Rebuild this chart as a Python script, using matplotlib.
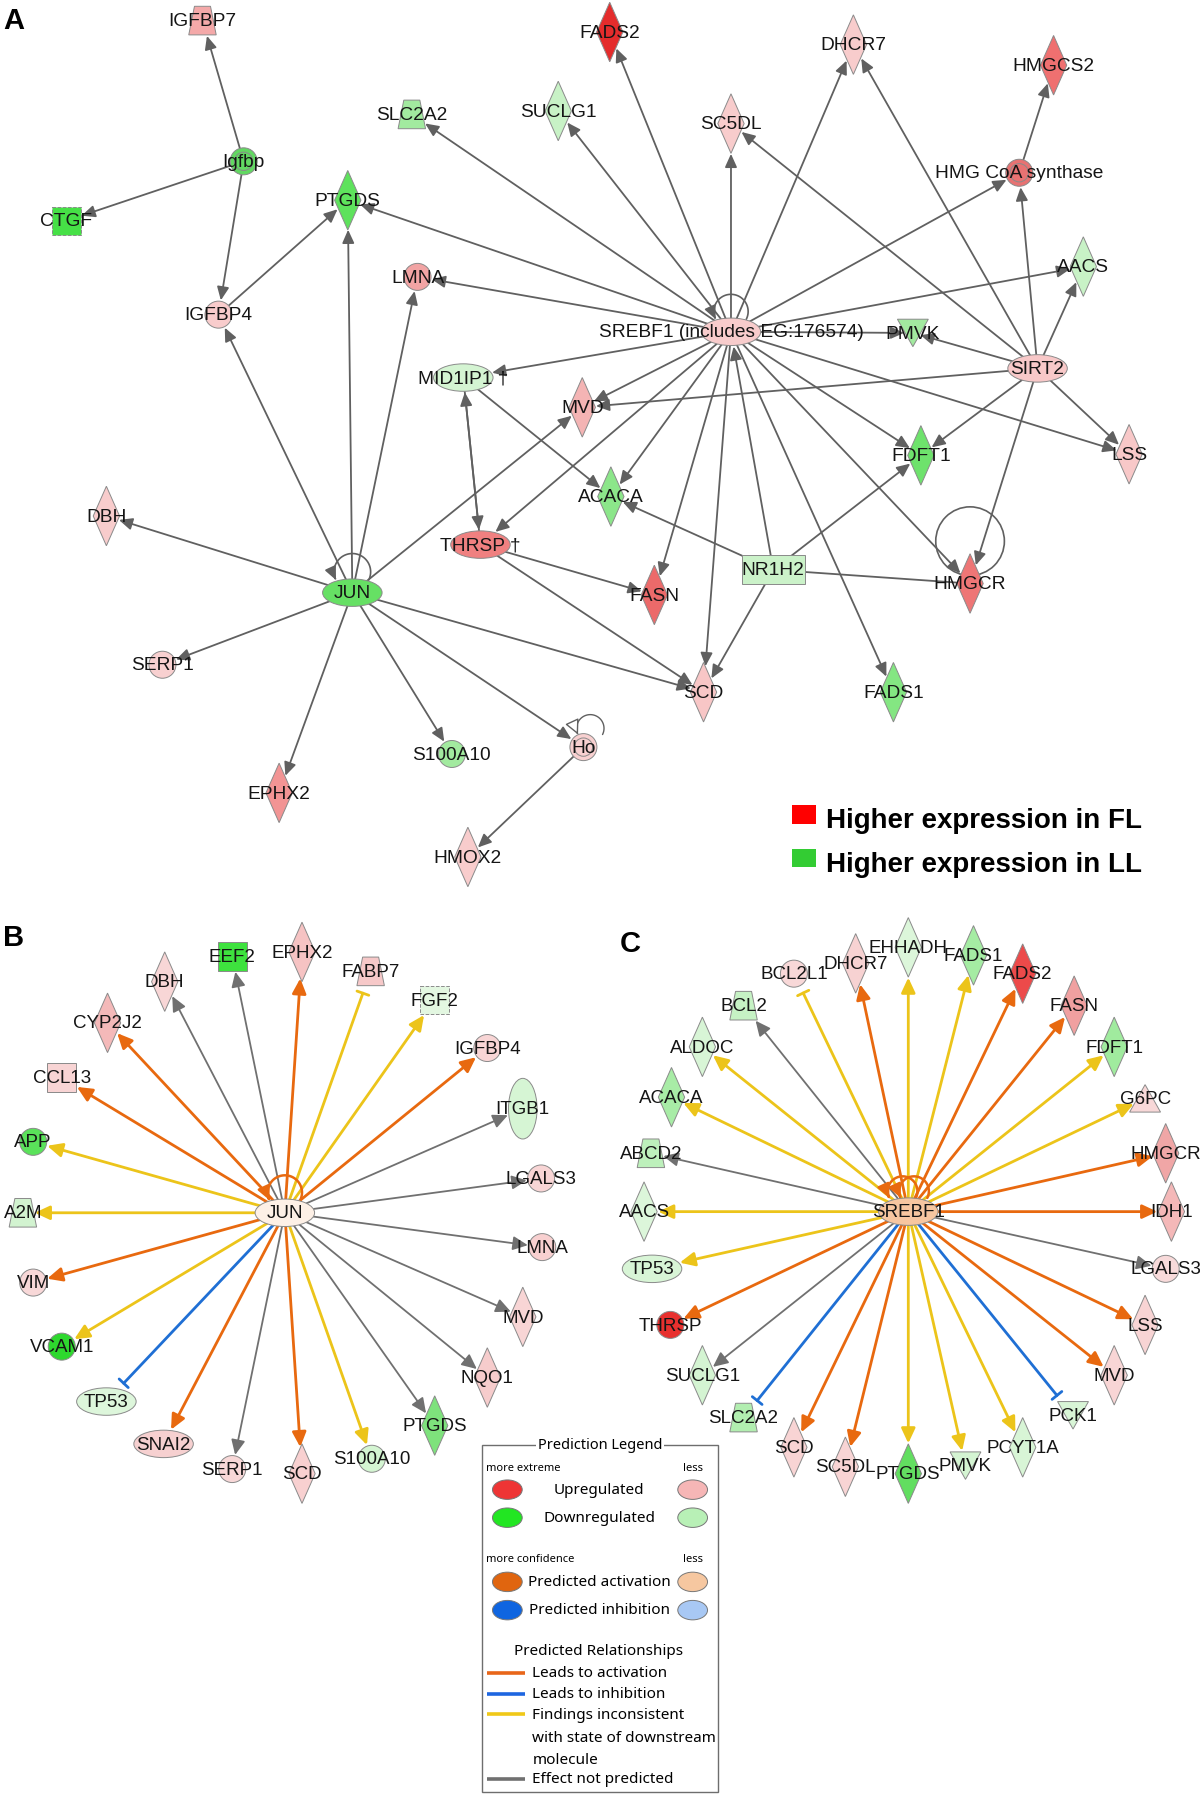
import numpy as np
import matplotlib
matplotlib.use("Agg")
import matplotlib.pyplot as plt
from matplotlib.patches import (Polygon, Ellipse, Circle, Rectangle,
                                FancyArrowPatch, ArrowStyle)
from matplotlib.path import Path

LABEL_FONT = ["Liberation Sans", "DejaVu Sans"]
LEGEND_FONT = ["Noto Sans", "DejaVu Sans"]

# ---- panel A: network (name, x, y, shape, fill) in page pixels ----
A_NODES = [
    ("IGFBP7", 177, 18, "trap", "#f4a9a9"),
    ("Igfbp", 213, 141, "group", "#62d862"),
    ("CTGF", 58, 193, "sqdash", "#46e046"),
    ("PTGDS", 304, 175, "diamond", "#5ee25c"),
    ("SLC2A2", 360, 100, "trap", "#a2ea9f"),
    ("SUCLG1", 488, 97, "diamond", "#c8f2c6"),
    ("FADS2", 533, 28, "diamond", "#e42c2c"),
    ("SC5DL", 639, 108, "diamond", "#f8cccc"),
    ("DHCR7", 746, 39, "diamond", "#f8cccc"),
    ("HMGCS2", 921, 57, "diamond", "#ef7070"),
    ("HMG CoA synthase", 891, 151, "group", "#e87272"),
    ("AACS", 947, 233, "diamond", "#c8f2c6"),
    ("SREBF1", 639, 290, "ellipse", "#f8cccc"),
    ("PMVK", 798, 291, "invtri", "#a2ea9f"),
    ("SIRT2", 907, 322, "ellipse", "#f8c8c8"),
    ("LMNA", 365, 242, "circle", "#f2a4a4"),
    ("IGFBP4", 191, 275, "circle", "#f8cccc"),
    ("MID1IP1", 405, 330, "ellipse", "#d4f4d2"),
    ("MVD", 509, 356, "diamond", "#f4b4b4"),
    ("LSS", 987, 397, "diamond", "#f8c8c8"),
    ("FDFT1", 805, 398, "diamond", "#6ee26c"),
    ("ACACA", 534, 434, "diamond", "#8ce68a"),
    ("DBH", 93, 451, "diamond", "#f8cccc"),
    ("THRSP", 420, 476, "ellipse", "#f08080"),
    ("FASN", 572, 520, "diamond", "#ec6a6a"),
    ("NR1H2", 676, 498, "rect", "#cbf2c9"),
    ("HMGCR", 848, 510, "diamond", "#ee7676"),
    ("JUN", 308, 518, "ellipse", "#66e064"),
    ("SERP1", 142, 581, "circle", "#f8d0d0"),
    ("SCD", 615, 605, "diamond", "#f8c6c6"),
    ("FADS1", 781, 605, "diamond", "#84e682"),
    ("S100A10", 395, 659, "circle", "#a2ea9f"),
    ("Ho", 510, 653, "group", "#f8d0d0"),
    ("EPHX2", 244, 693, "diamond", "#f29494"),
    ("HMOX2", 409, 749, "diamond", "#f8cccc"),
]
A_LABELS = {"SREBF1": "SREBF1 (includes EG:176574)",
            "MID1IP1": "MID1IP1 \u2020", "THRSP": "THRSP \u2020"}

# (source, target, head)
A_EDGES = [
    ("Igfbp", "IGFBP7", ">"), ("Igfbp", "CTGF", ">"), ("Igfbp", "IGFBP4", ">"),
    ("IGFBP4", "PTGDS", ">"),
    ("JUN", "IGFBP4", ">"), ("JUN", "PTGDS", ">"), ("JUN", "LMNA", ">"),
    ("JUN", "MVD", ">"), ("JUN", "DBH", ">"), ("JUN", "SERP1", ">"),
    ("JUN", "EPHX2", ">"), ("JUN", "S100A10", ">"), ("JUN", "Ho", ">"),
    ("JUN", "SCD", ">"),
    ("SREBF1", "SLC2A2", ">"), ("SREBF1", "SUCLG1", ">"), ("SREBF1", "FADS2", ">"),
    ("SREBF1", "SC5DL", ">"), ("SREBF1", "DHCR7", ">"),
    ("SREBF1", "HMG CoA synthase", ">"), ("SREBF1", "AACS", ">"),
    ("SREBF1", "PMVK", ">"), ("SREBF1", "PTGDS", ">"), ("SREBF1", "LMNA", ">"),
    ("SREBF1", "MID1IP1", ">"), ("SREBF1", "MVD", ">"), ("SREBF1", "ACACA", ">"),
    ("SREBF1", "THRSP", ">"), ("SREBF1", "FASN", ">"), ("SREBF1", "SCD", ">"),
    ("SREBF1", "FADS1", ">"), ("SREBF1", "FDFT1", ">"), ("SREBF1", "HMGCR", ">"),
    ("SREBF1", "LSS", ">"),
    ("NR1H2", "SREBF1", ">"), ("NR1H2", "ACACA", ">"), ("NR1H2", "FDFT1", ">"),
    ("NR1H2", "HMGCR", "-"), ("NR1H2", "SCD", ">"),
    ("SIRT2", "HMG CoA synthase", ">"), ("SIRT2", "AACS", ">"), ("SIRT2", "PMVK", ">"),
    ("SIRT2", "SC5DL", ">"), ("SIRT2", "DHCR7", ">"), ("SIRT2", "MVD", ">"),
    ("SIRT2", "FDFT1", ">"), ("SIRT2", "LSS", ">"), ("SIRT2", "HMGCR", ">"),
    ("HMG CoA synthase", "HMGCS2", ">"),
    ("MID1IP1", "THRSP", ">"), ("THRSP", "MID1IP1", ">"), ("MID1IP1", "ACACA", ">"),
    ("THRSP", "FASN", ">"), ("THRSP", "SCD", ">"),
    ("Ho", "HMOX2", ">"),
]
A_KEY = ["Higher expression in FL", "Higher expression in LL"]
A_KEY_COLORS = ["#ff0000", "#33cc33"]

# ---- panel B: JUN regulator ----
B_NODES = [
    ("JUN", 249, 1060, "ellipse", "#fdf0e6"),
    ("EEF2", 203, 836, "square", "#3ee23e"),
    ("EPHX2", 264, 832, "diamond", "#f6c3c3"),
    ("DBH", 144, 858, "diamond", "#f8d6d6"),
    ("FABP7", 324, 849, "trap", "#f6c8c8"),
    ("FGF2", 380, 874, "sqdash", "#e3f7e1"),
    ("CYP2J2", 94, 894, "diamond", "#f4b9b9"),
    ("IGFBP4", 426, 916, "circle", "#f8d5d5"),
    ("CCL13", 54, 942, "square", "#f8d4d4"),
    ("ITGB1", 457, 969, "tall", "#d6f5d4"),
    ("APP", 29, 998, "circle", "#5ae25a"),
    ("LGALS3", 473, 1030, "circle", "#f8d5d5"),
    ("A2M", 20, 1060, "trap", "#d2f3d0"),
    ("LMNA", 474, 1090, "circle", "#f8d0d0"),
    ("VIM", 29, 1121, "circle", "#f8d8d8"),
    ("MVD", 457, 1151, "diamond", "#f8d5d5"),
    ("VCAM1", 54, 1177, "circle", "#2ed82e"),
    ("NQO1", 426, 1204, "diamond", "#f6cccc"),
    ("TP53", 93, 1225, "ellipse", "#ddf6db"),
    ("PTGDS", 380, 1246, "diamond", "#7ee27c"),
    ("SNAI2", 143, 1262, "ellipse", "#f6d0d0"),
    ("SERP1", 203, 1284, "circle", "#f8d8d8"),
    ("SCD", 264, 1288, "diamond", "#f8d0d0"),
    ("S100A10", 325, 1275, "circle", "#d4f5d2"),
]
B_EDGES = [
    ("EEF2", "none"), ("EPHX2", "act"), ("DBH", "none"), ("FABP7", "incbar"),
    ("FGF2", "inc"), ("CYP2J2", "act"), ("IGFBP4", "act"), ("CCL13", "act"),
    ("ITGB1", "none"), ("APP", "inc"), ("LGALS3", "none"), ("A2M", "inc"),
    ("LMNA", "none"), ("VIM", "act"), ("MVD", "none"), ("VCAM1", "inc"),
    ("NQO1", "none"), ("TP53", "inh"), ("PTGDS", "none"), ("SNAI2", "act"),
    ("SERP1", "none"), ("SCD", "act"), ("S100A10", "inc"),
]

# ---- panel C: SREBF1 regulator ----
C_NODES = [
    ("SREBF1", 794, 1059, "ellipse", "#f7c6a0"),
    ("BCL2L1", 694, 851, "circle", "#f8d8d8"),
    ("DHCR7", 748, 842, "diamond", "#f7d2d2"),
    ("EHHADH", 794, 828, "diamond", "#dcf6da"),
    ("FADS1", 851, 835, "diamond", "#a5eca3"),
    ("FADS2", 894, 851, "diamond", "#ec4a4a"),
    ("FASN", 939, 879, "diamond", "#f0a0a0"),
    ("BCL2", 650, 879, "trap", "#c6f2c4"),
    ("ALDOC", 614, 915, "diamond", "#d8f5d6"),
    ("FDFT1", 974, 915, "diamond", "#a0eb9e"),
    ("ACACA", 587, 959, "diamond", "#a8eca6"),
    ("G6PC", 1001, 960, "tri", "#f8d8d8"),
    ("ABCD2", 569, 1008, "trap", "#bdf0bb"),
    ("HMGCR", 1019, 1008, "diamond", "#f0a6a6"),
    ("AACS", 563, 1059, "diamond", "#dcf6da"),
    ("IDH1", 1024, 1059, "diamond", "#f4b8b8"),
    ("TP53", 570, 1109, "ellipse", "#d8f5d6"),
    ("LGALS3", 1019, 1109, "circle", "#f8dada"),
    ("THRSP", 586, 1158, "circle", "#e8302e"),
    ("LSS", 1001, 1158, "diamond", "#f8d4d4"),
    ("SUCLG1", 614, 1202, "diamond", "#d4f4d2"),
    ("MVD", 974, 1202, "diamond", "#f8d5d5"),
    ("SLC2A2", 650, 1239, "trap", "#b2eeb0"),
    ("PCK1", 938, 1237, "invtri", "#d8f5d6"),
    ("SCD", 694, 1265, "diamond", "#f8d4d4"),
    ("SC5DL", 739, 1282, "diamond", "#f8d4d4"),
    ("PTGDS", 794, 1288, "diamond", "#62de60"),
    ("PMVK", 844, 1281, "invtri", "#d4f4d2"),
    ("PCYT1A", 894, 1265, "diamond", "#d8f5d6"),
]
C_EDGES = [
    ("BCL2L1", "incbar"), ("DHCR7", "act"), ("EHHADH", "inc"), ("FADS1", "inc"),
    ("FADS2", "act"), ("FASN", "act"), ("BCL2", "none"), ("ALDOC", "inc"),
    ("FDFT1", "inc"), ("ACACA", "inc"), ("G6PC", "inc"), ("ABCD2", "none"),
    ("HMGCR", "act"), ("AACS", "inc"), ("IDH1", "act"), ("TP53", "inc"),
    ("LGALS3", "none"), ("THRSP", "act"), ("LSS", "act"), ("SUCLG1", "none"),
    ("MVD", "act"), ("SLC2A2", "inh"), ("PCK1", "inh"), ("SCD", "act"),
    ("SC5DL", "act"), ("PTGDS", "inc"), ("PMVK", "inc"), ("PCYT1A", "inc"),
]

# ---- prediction legend ----
LEG_NODE_ROWS = ["Upregulated", "Downregulated", "Predicted activation", "Predicted inhibition"]
LEG_NODE_STRONG = ["#ee3535", "#22e622", "#e0650f", "#0f65e0"]
LEG_NODE_WEAK = ["#f6b6b6", "#b8f0b6", "#f6c7a0", "#a8c8f4"]
LEG_EDGE_ROWS = ["Leads to activation", "Leads to inhibition",
                 "Findings inconsistent", "Effect not predicted"]
LEG_EDGE_COLORS = ["#e8661a", "#1e66e0", "#f0c818", "#707070"]
LEG_EDGE_EXTRA = ["with state of downstream", "molecule"]

EDGE_COLORS = {"act": "#e8690f", "inc": "#ecc41a", "incbar": "#ecc41a",
               "inh": "#1f6fd4", "none": "#707070"}
GREY = "#606060"
OUTLINE = "#8a8a8a"


def node_patch(shape, x, y, fill):
    kw = dict(fc=fill, ec=OUTLINE, lw=0.7)
    if shape == "diamond":
        return Polygon([(x, y - 26), (x + 11.5, y), (x, y + 26), (x - 11.5, y)], **kw)
    if shape in ("circle", "group"):
        return Circle((x, y), 11.8, **kw)
    if shape == "ellipse":
        return Ellipse((x, y), 52, 24, **kw)
    if shape == "tall":
        return Ellipse((x, y), 25, 53, **kw)
    if shape == "square":
        return Rectangle((x - 12.5, y - 12.5), 25, 25, **kw)
    if shape == "sqdash":
        return Rectangle((x - 12.5, y - 12.5), 25, 25, ls="--", **kw)
    if shape == "rect":
        return Rectangle((x - 27.5, y - 12.5), 55, 25, **kw)
    if shape == "trap":
        return Polygon([(x - 7, y - 12.5), (x + 7, y - 12.5),
                        (x + 12, y + 12.5), (x - 12, y + 12.5)], **kw)
    if shape == "tri":
        return Polygon([(x, y - 12), (x + 13.5, y + 12), (x - 13.5, y + 12)], **kw)
    if shape == "invtri":
        return Polygon([(x - 13.5, y - 12), (x + 13.5, y - 12), (x, y + 12)], **kw)
    raise ValueError(shape)


def draw_nodes(ax, nodes, labels, fs):
    patches, pos = {}, {}
    for name, x, y, shape, fill in nodes:
        p = node_patch(shape, x, y, fill)
        p.set_zorder(3)
        ax.add_patch(p)
        if shape == "group":
            ax.add_patch(Circle((x, y), 8, fill=False, ec=OUTLINE, lw=0.7, zorder=3.1))
        ax.text(x, y + 1, labels.get(name, name), ha="center", va="center",
                fontsize=fs, family=LABEL_FONT, color="#151515", zorder=5)
        patches[name], pos[name] = p, (x, y)
    return patches, pos


def self_loop(ax, cx, top, r, style, dx=0.0, **kw):
    ly = top - 0.45 * r
    t1 = np.pi + np.arcsin(0.45)
    t = np.linspace(-np.arcsin(0.45), t1, 60)
    pts = np.column_stack([cx + dx + r * np.cos(t), ly - r * np.sin(t)])
    ax.add_patch(FancyArrowPatch(path=Path(pts), arrowstyle=style,
                                 mutation_scale=1, zorder=2, **kw))


fig = plt.figure(figsize=(12, 17.94), dpi=100)
ax = fig.add_axes([0, 0, 1, 1])
ax.set_xlim(0, 1049)
ax.set_ylim(1568, 0)
ax.axis("off")

head_a = ArrowStyle("-|>", head_length=8, head_width=3.6)

# panel A
pa, posa = draw_nodes(ax, A_NODES, A_LABELS, 13.8)
for src, dst, head in A_EDGES:
    style = head_a if head == ">" else "-"
    ax.add_patch(FancyArrowPatch(posa[src], posa[dst], patchA=pa[src], patchB=pa[dst],
                                 arrowstyle=style, color=GREY, lw=1.3, shrinkA=0,
                                 shrinkB=1, mutation_scale=1, zorder=1))
self_loop(ax, 639, 279, 15, head_a, color=GREY, lw=1.2)
self_loop(ax, 308, 507, 16, head_a, color=GREY, lw=1.2)
self_loop(ax, 510, 642, 12, ArrowStyle("-|>", head_length=9, head_width=4.5), dx=6,
          ec=GREY, fc="white", lw=1.0)
ax.add_patch(Circle((848, 473), 30, fill=False, ec=GREY, lw=1.2, zorder=1))
for i, (lab, col) in enumerate(zip(A_KEY, A_KEY_COLORS)):
    yy = 712 + 38 * i
    ax.add_patch(Rectangle((692, yy - 8), 21, 16, fc=col, ec="none"))
    ax.text(722, yy + 6, lab, ha="left", va="center", fontsize=20,
            fontweight="bold", family=LABEL_FONT)

# panels B and C
for nodes, edges, hub, fs in ((B_NODES, B_EDGES, "JUN", 13.5),
                              (C_NODES, C_EDGES, "SREBF1", 13.5)):
    pp, pos = draw_nodes(ax, nodes, {}, fs)
    for dst, rel in edges:
        col = EDGE_COLORS[rel]
        if rel in ("inh", "incbar"):
            style, shrink = ArrowStyle("-[", widthB=4.5, lengthB=0), 6
        else:
            style, shrink = ArrowStyle("-|>", head_length=9, head_width=4.2), 1
        lw = 1.3 if rel == "none" else 2.0
        ax.add_patch(FancyArrowPatch(pos[hub], pos[dst], patchA=pp[hub], patchB=pp[dst],
                                     arrowstyle=style, color=col, lw=lw, shrinkA=0,
                                     shrinkB=shrink, mutation_scale=1, zorder=1))
    hx, hy = pos[hub]
    loop_head = ArrowStyle("-|>", head_length=8, head_width=3.8)
    if hub == "JUN":
        self_loop(ax, hx, hy - 11, 15, loop_head, color=EDGE_COLORS["act"], lw=1.8)
    else:
        self_loop(ax, hx - 5, hy - 12, 13, loop_head, color=EDGE_COLORS["act"], lw=1.8)
        self_loop(ax, hx + 5, hy - 12, 13, loop_head, color=EDGE_COLORS["act"], lw=1.8)

for lab, x, y in (("A", 12, 18), ("B", 12, 820), ("C", 551, 825)):
    ax.text(x, y, lab, ha="center", va="center", fontsize=21, fontweight="bold",
            family=LABEL_FONT)

# prediction legend box
ax.add_patch(Rectangle((421, 1263), 207, 303, fill=False, ec="#6e6e6e", lw=1.0))
ax.text(524.5, 1263, "Prediction Legend", ha="center", va="center", fontsize=10.5,
        fontweight="bold", family=LEGEND_FONT,
        bbox=dict(fc="white", ec="none", pad=1.5))
for y, lab in ((1283.5, "more extreme"), (1362.8, "more confidence")):
    ax.text(425, y, lab, ha="left", va="center", fontsize=8, family=LEGEND_FONT)
    ax.text(606, y, "less", ha="center", va="center", fontsize=8, family=LEGEND_FONT)
for y, lab, c1, c2 in zip((1302, 1326.5, 1382.6, 1407.3), LEG_NODE_ROWS,
                          LEG_NODE_STRONG, LEG_NODE_WEAK):
    ax.add_patch(Ellipse((443.5, y), 26, 17, fc=c1, ec="#777777", lw=0.7))
    ax.add_patch(Ellipse((605.5, y), 26, 17, fc=c2, ec="#777777", lw=0.7))
    ax.text(524, y + 0.5, lab, ha="center", va="center", fontsize=11, family=LEGEND_FONT)
ax.text(523.3, 1443.2, "Predicted Relationships", ha="center", va="center",
        fontsize=11, family=LEGEND_FONT)
for y, lab, col in zip((1461.9, 1480.2, 1498.3, 1554.5), LEG_EDGE_ROWS, LEG_EDGE_COLORS):
    ax.plot([425.4, 458.9], [y, y], color=col, lw=2.6, solid_capstyle="butt")
    ax.text(465.3, y + 0.7, lab, ha="left", va="center", fontsize=11, family=LEGEND_FONT)
for y, lab in zip((1518.6, 1537.6), LEG_EDGE_EXTRA):
    ax.text(465.3, y + 0.7, lab, ha="left", va="center", fontsize=11, family=LEGEND_FONT)

fig.savefig("out.png", dpi=100)
